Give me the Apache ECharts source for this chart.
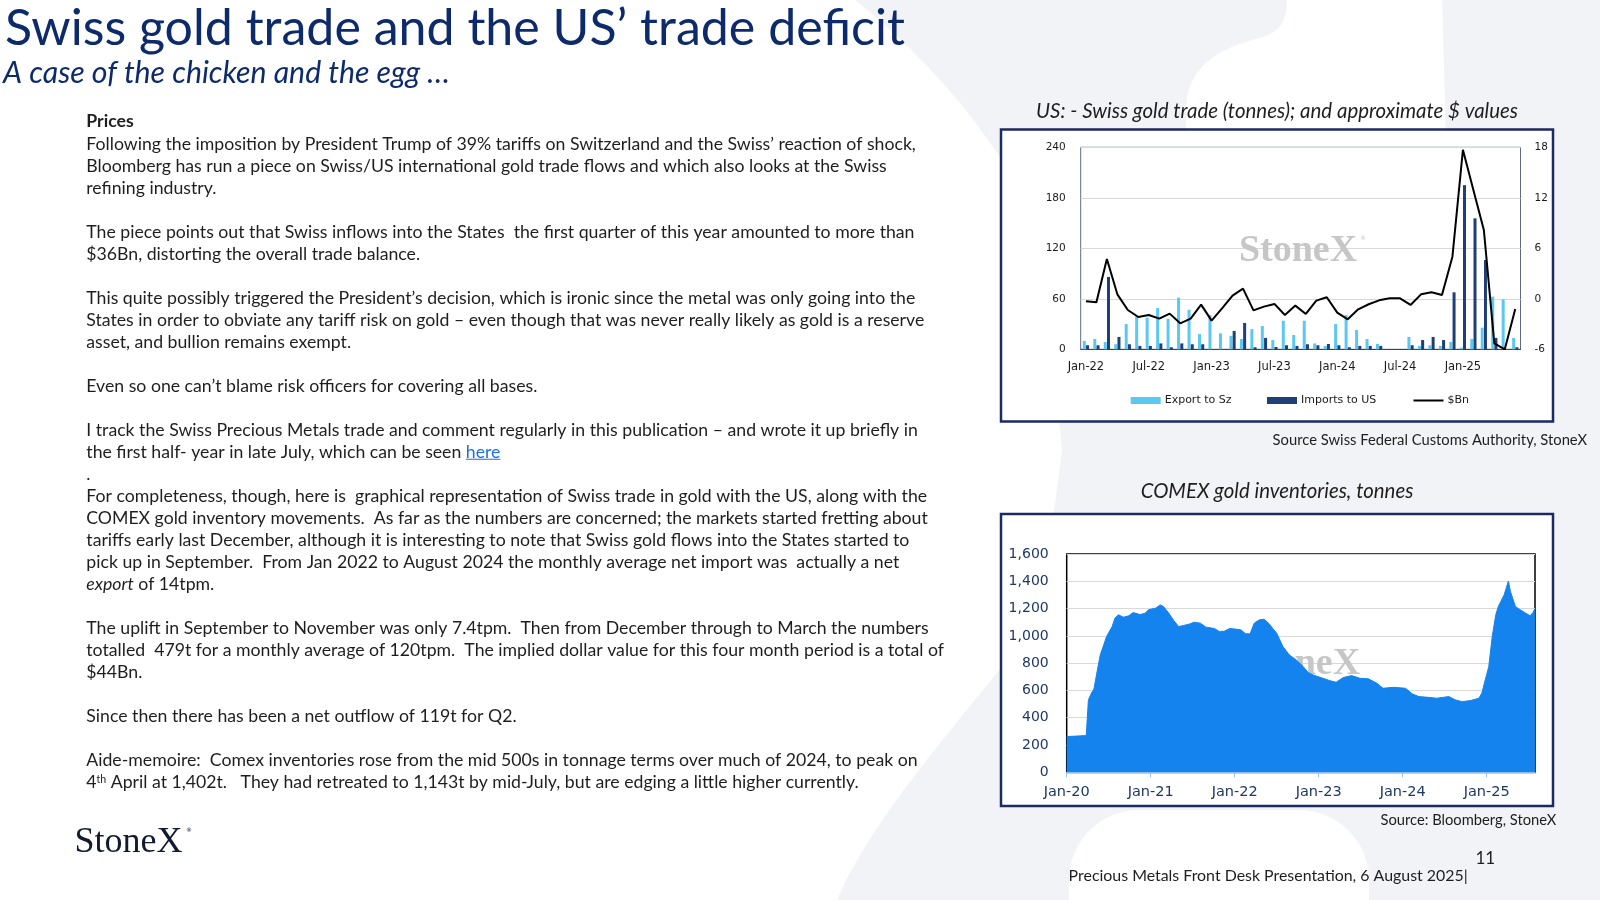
<!DOCTYPE html>
<html><head><meta charset="utf-8">
<script src="https://cdn.jsdelivr.net/npm/echarts@6/dist/echarts.min.js"></script>
<style>html,body{margin:0;padding:0;background:#fff;}#c{width:1600px;height:900px;}</style>
</head><body><div id="c"></div>
<script>
// ---------- DATA ----------
const tradeMonths = ['Jan-22','Feb-22','Mar-22','Apr-22','May-22','Jun-22','Jul-22','Aug-22','Sep-22','Oct-22','Nov-22','Dec-22',
  'Jan-23','Feb-23','Mar-23','Apr-23','May-23','Jun-23','Jul-23','Aug-23','Sep-23','Oct-23','Nov-23','Dec-23',
  'Jan-24','Feb-24','Mar-24','Apr-24','May-24','Jun-24','Jul-24','Aug-24','Sep-24','Oct-24','Nov-24','Dec-24',
  'Jan-25','Feb-25','Mar-25','Apr-25','May-25','Jun-25'];
const exportToSz = [10,12.3,8.7,6,30,39,37.6,49,36.4,61.4,47,18,
  40.8,19,16,12.3,24,27.7,11,34,17,34,7,4,
  30,40.8,23,12.3,6.3,0,0,14.7,4,4.8,4,8.7,
  2,12.3,25.7,62.6,59.4,13.5];
const importsToUS = [4.8,4.8,86,14.7,6,4,4,7,2.4,7,6,6,
  0,0,21.8,31.3,2.4,13.5,2.8,4.8,4,6,4.8,6.3,
  4.8,2.4,4,4,4,0,0,4.8,11,14.7,11,67.7,
  195,155.6,106,13.5,0,2.4];
const dollarBn = [-0.3,-0.42,4.73,0.53,-1.33,-2.16,-1.92,-2.36,-1.76,-2.91,-2.36,-0.69,
  -2.59,-1.13,0.38,1.21,-1.37,-0.93,-0.61,-1.92,-0.81,-1.8,-0.22,0.18,
  -1.64,-2.44,-1.25,-0.65,-0.18,0.06,0.06,-0.73,0.53,0.77,0.46,5.0,
  17.7,12.93,8.18,-5.29,-6.0,-1.21];

const comexDates = ['2020-01-01','2020-03-25','2020-04-04','2020-04-19','2020-04-28','2020-05-10','2020-05-25','2020-06-10','2020-06-22',
  '2020-07-16','2020-07-28','2020-08-13','2020-09-04','2020-09-28','2020-10-16','2020-11-16','2020-12-07','2020-12-22',
  '2021-01-22','2021-02-12','2021-02-26','2021-03-19','2021-04-10','2021-05-01','2021-05-22','2021-06-16','2021-07-07',
  '2021-08-04','2021-08-28','2021-10-04','2021-10-25','2021-11-16','2021-12-10','2022-01-07','2022-01-28','2022-02-18',
  '2022-03-07','2022-03-25','2022-04-16','2022-05-07','2022-05-28','2022-06-19','2022-07-01','2022-07-28','2022-08-25',
  '2022-09-25','2022-10-25','2022-11-16','2022-12-07','2023-01-19','2023-02-18','2023-03-16','2023-04-16','2023-05-22',
  '2023-06-28','2023-08-04','2023-09-10','2023-10-07','2023-11-22','2024-01-13','2024-02-12','2024-03-10','2024-04-16',
  '2024-05-28','2024-07-19','2024-08-16','2024-09-16','2024-10-22','2024-11-28','2024-12-10','2024-12-25','2025-01-10',
  '2025-01-25','2025-02-10','2025-02-21','2025-03-16','2025-04-04','2025-04-13','2025-05-04','2025-05-25','2025-06-19',
  '2025-07-07','2025-07-19','2025-07-28'];
const comexTonnes = [262,269,530,587,609,726,860,934,995,
  1068,1130,1154,1137,1147,1171,1156,1166,1191,
  1203,1227,1215,1166,1112,1068,1076,1086,1100,
  1093,1064,1054,1032,1034,1054,1049,1044,1015,
  1015,1093,1117,1122,1090,1044,1020,922,861,
  824,775,731,714,689,672,660,694,709,
  689,685,653,616,623,616,575,555,550,
  543,555,531,518,526,543,579,677,775,
  995,1154,1215,1301,1402,1325,1215,1191,1166,
  1147,1170,1200];
const comexYearLabels = ['Jan-20','Jan-21','Jan-22','Jan-23','Jan-24','Jan-25'];

const titleText = 'Swiss gold trade and the US’ trade deficit';
const subtitleText = 'A case of the chicken and the egg …';
const bodyLines = [
  '{b|Prices}',
  'Following the imposition by President Trump of 39% tariffs on Switzerland and the Swiss’ reaction of shock,',
  'Bloomberg has run a piece on Swiss/US international gold trade flows and which also looks at the Swiss',
  'refining industry.',
  '',
  'The piece points out that Swiss inflows into the States  the first quarter of this year amounted to more than',
  '$36Bn, distorting the overall trade balance.',
  '',
  'This quite possibly triggered the President’s decision, which is ironic since the metal was only going into the',
  'States in order to obviate any tariff risk on gold – even though that was never really likely as gold is a reserve',
  'asset, and bullion remains exempt.',
  '',
  'Even so one can’t blame risk officers for covering all bases.',
  '',
  'I track the Swiss Precious Metals trade and comment regularly in this publication – and wrote it up briefly in',
  'the first half- year in late July, which can be seen {a|here}',
  '.',
  'For completeness, though, here is  graphical representation of Swiss trade in gold with the US, along with the',
  'COMEX gold inventory movements.  As far as the numbers are concerned; the markets started fretting about',
  'tariffs early last December, although it is interesting to note that Swiss gold flows into the States started to',
  'pick up in September.  From Jan 2022 to August 2024 the monthly average net import was  actually a net',
  '{i|export} of 14tpm.',
  '',
  'The uplift in September to November was only 7.4tpm.  Then from December through to March the numbers',
  'totalled  479t for a monthly average of 120tpm.  The implied dollar value for this four month period is a total of',
  '$44Bn.',
  '',
  'Since then there has been a net outflow of 119t for Q2.',
  '',
  'Aide-memoire:  Comex inventories rose from the mid 500s in tonnage terms over much of 2024, to peak on',
  '4{s|th} April at 1,402t.   They had retreated to 1,143t by mid-July, but are edging a little higher currently.'
];

// ---------- helpers ----------
const mctx = document.createElement('canvas').getContext('2d');
function measure(text, size, family, weight, style) {
  mctx.font = (style || 'normal') + ' ' + (weight || 'normal') + ' ' + size + 'px ' + family;
  return mctx.measureText(text).width;
}
function fitSize(text, family, target, weight, style) {
  return 20 * target / measure(text, 20, family, weight, style);
}
function toMonthIndex(s) {
  const p = s.split('-').map(Number);
  return (p[0] - 2020) * 12 + (p[1] - 1) + (p[2] - 1) / 30.4;
}
function bez(p0, p1, p2, p3, n) {
  const out = [];
  for (let i = 1; i <= n; i++) {
    const t = i / n, u = 1 - t;
    out.push([u*u*u*p0[0] + 3*u*u*t*p1[0] + 3*u*t*t*p2[0] + t*t*t*p3[0],
              u*u*u*p0[1] + 3*u*u*t*p1[1] + 3*u*t*t*p2[1] + t*t*t*p3[1]]);
  }
  return out;
}

const SANS = 'Lato';
const NAVY = '#0d2b6b';
const TXT = '#1e1e1e';

const titleSize = fitSize(titleText, SANS, 900, 'normal');
const subSize = fitSize(subtitleText, SANS, 447, 'normal', 'italic');
const bodySize = fitSize(bodyLines[1], SANS, 830);
const mid = 0.255; // baseline -> drawn middle offset (em)

const els = [];
// background X shape (pale)
const leftNotch = [[0,0],[855,0]].concat(
  bez([855,0],[930,60],[1000,140],[1040,230],12),
  [[1062,450],[1040,620]],
  bez([1040,620],[960,720],[870,820],[837,900],12),
  [[0,900]]);
const topNotch = [[1287,-1],[1442,-1],[1446,140],[1186,140],[1186,110]].concat(
  bez([1186,110],[1186,62],[1226,46],[1266,36],10),
  bez([1266,36],[1283,30],[1287,16],[1287,-1],6));
els.push({type:'rect', z:-30, shape:{x:800,y:0,width:800,height:900}, style:{fill:'#f2f3f6'}});
els.push({type:'polygon', z:-29, shape:{points:leftNotch}, style:{fill:'#ffffff'}});
els.push({type:'polygon', z:-29, shape:{points:topNotch}, style:{fill:'#ffffff'}});
els.push({type:'rect', z:-29, shape:{x:1069,y:810,width:300,height:200,r:[70,70,0,0]}, style:{fill:'#ffffff'}});

// title & subtitle
els.push({type:'text', z:5, style:{text:titleText, x:5, y:41.7 - mid*titleSize, font:'normal normal ' + titleSize.toFixed(2) + 'px ' + SANS, fill:NAVY, align:'left', verticalAlign:'middle'}});
els.push({type:'text', z:5, style:{text:subtitleText, x:3, y:81 - mid*subSize, font:'italic normal ' + subSize.toFixed(2) + 'px ' + SANS, fill:NAVY, align:'left', verticalAlign:'middle'}});

// body text
bodyLines.forEach(function (line, n) {
  if (!line) return;
  const base = 126.3 + 22.03 * n;
  els.push({type:'text', z:5, style:{
    text: line, x: 86.3, y: base - mid * bodySize,
    fontSize: bodySize, fontFamily: SANS, fill: TXT, align:'left', verticalAlign:'middle',
    rich: {
      b: {fontSize: bodySize, fontFamily: SANS, fontWeight:'bold', fill: TXT},
      i: {fontSize: bodySize, fontFamily: SANS, fontStyle:'italic', fill: TXT},
      a: {fontSize: bodySize, fontFamily: SANS, fill: '#1f6fe5'},
      s: {fontSize: bodySize * 0.6, fontFamily: SANS, fill: TXT, verticalAlign:'top'}
    }
  }});
  if (line.indexOf('{a|') >= 0) {
    const pre = line.split('{a|')[0];
    const x0 = 86.3 + measure(pre, bodySize, SANS);
    const w = measure('here', bodySize, SANS);
    els.push({type:'line', z:5, shape:{x1:x0, y1:base + 2.5, x2:x0 + w, y2:base + 2.5}, style:{stroke:'#1f6fe5', lineWidth:1}});
  }
});

// logo
els.push({type:'text', z:5, style:{text:'StoneX', x:74.5, y:850 - 0.21*36, font:'normal 36px "Liberation Serif"', fill:'#141a2e', align:'left', verticalAlign:'middle'}});
els.push({type:'text', z:5, style:{text:'®', x:186, y:830, font:'normal 6px "DejaVu Sans"', fill:'#141a2e', align:'left', verticalAlign:'middle'}});

// chart boxes
els.push({type:'rect', z:-10, shape:{x:1001,y:129.5,width:552,height:292}, style:{fill:'#ffffff', stroke:'#1c2a64', lineWidth:2.5}});
els.push({type:'rect', z:-10, shape:{x:1001,y:514,width:552,height:292}, style:{fill:'#ffffff', stroke:'#1c2a64', lineWidth:2.5}});

// chart titles, sources, footer
const t1 = 'US: - Swiss gold trade (tonnes); and approximate $ values';
const t2 = 'COMEX gold inventories, tonnes';
const s1 = 'Source Swiss Federal Customs Authority, StoneX';
const s2 = 'Source: Bloomberg, StoneX';
const ft = 'Precious Metals Front Desk Presentation, 6 August 2025|';
const t1s = fitSize(t1, SANS, 482, 'normal', 'italic');
const t2s = fitSize(t2, SANS, 272.7, 'normal', 'italic');
const s1s = fitSize(s1, SANS, 314.4);
const s2s = fitSize(s2, SANS, 175.8);
const fts = fitSize(ft, SANS, 399.5);
els.push({type:'text', z:5, style:{text:t1, x:1277, y:111, font:'italic ' + t1s.toFixed(2) + 'px ' + SANS, fill:TXT, align:'center', verticalAlign:'middle'}});
els.push({type:'text', z:5, style:{text:t2, x:1277, y:491, font:'italic ' + t2s.toFixed(2) + 'px ' + SANS, fill:TXT, align:'center', verticalAlign:'middle'}});
els.push({type:'text', z:5, style:{text:s1, x:1587, y:440.6, font:s1s.toFixed(2) + 'px ' + SANS, fill:TXT, align:'right', verticalAlign:'middle'}});
els.push({type:'text', z:5, style:{text:s2, x:1556.3, y:820.6, font:s2s.toFixed(2) + 'px ' + SANS, fill:TXT, align:'right', verticalAlign:'middle'}});
els.push({type:'text', z:5, style:{text:ft, x:1467.7, y:875.7, font:fts.toFixed(2) + 'px ' + SANS, fill:TXT, align:'right', verticalAlign:'middle'}});
els.push({type:'text', z:5, style:{text:'11', x:1475.5, y:858.5, font:'17px ' + SANS, fill:TXT, align:'left', verticalAlign:'middle'}});

// watermarks in charts
els.push({type:'text', z:1, style:{text:'StoneX', x:1298, y:251, font:'bold 38px "Liberation Serif"', fill:'#c6c6c6', align:'center', verticalAlign:'middle'}});
els.push({type:'text', z:1, style:{text:'®', x:1360, y:238, font:'6px "DejaVu Sans"', fill:'#c6c6c6', align:'left', verticalAlign:'middle'}});
els.push({type:'text', z:1, style:{text:'StoneX', x:1301, y:664, font:'bold 38px "Liberation Serif"', fill:'#c6c6c6', align:'center', verticalAlign:'middle'}});

const axisFontTop = {fontFamily:'DejaVu Sans', fontSize:11, color:'#1a1a1a'};
const comexData = comexDates.map(function (d, i) { return [toMonthIndex(d), comexTonnes[i]]; });
const legendText = {fontFamily:'DejaVu Sans', fontSize:11, color:'#1a1a1a', padding:[0,0,0,-1]};

const option = {
  animation: false,
  backgroundColor: '#ffffff',
  graphic: {elements: els},
  grid: [
    {left:1080.7, top:147.3, width:439.8, height:202, show:true, borderColor:'#5d6d7e', borderWidth:1, backgroundColor:'transparent'},
    {left:1066.7, top:554, width:468.3, height:218.3, show:true, borderColor:'#000000', borderWidth:1.5, backgroundColor:'transparent'}
  ],
  xAxis: [
    {gridIndex:0, type:'category', data:tradeMonths, boundaryGap:true,
      axisLine:{lineStyle:{color:'#404040', width:1}},
      axisTick:{interval:5, length:5, alignWithLabel:false, lineStyle:{color:'#404040'}},
      axisLabel:Object.assign({interval:5, margin:12}, axisFontTop, {fontSize:11.5})},
    {gridIndex:1, type:'value', min:0, max:66.9, interval:12,
      axisLine:{show:true, onZero:false, lineStyle:{color:'#9dc3e6', width:1.5}},
      axisTick:{show:true, length:5, lineStyle:{color:'#9dc3e6'}},
      splitLine:{show:false},
      axisLabel:{margin:12, fontFamily:'DejaVu Sans', fontSize:14.5, color:'#1F3864', showMaxLabel:false,
        formatter:function (v) { const k = Math.round(v); return (Math.abs(v - k) < 1e-6 && k % 12 === 0) ? (comexYearLabels[k / 12] || '') : ''; }}}
  ],
  yAxis: [
    {gridIndex:0, type:'value', min:0, max:240, interval:60,
      axisLine:{show:false}, axisTick:{show:false},
      splitLine:{lineStyle:{color:'#d9d9d9', width:1}},
      axisLabel:Object.assign({margin:15, padding:[3,0,0,0]}, axisFontTop, {fontSize:10.5})},
    {gridIndex:0, type:'value', position:'right', min:-6, max:18, interval:6,
      axisLine:{show:false}, axisTick:{show:false}, splitLine:{show:false},
      axisLabel:Object.assign({margin:14, padding:[3,0,0,0]}, axisFontTop, {fontSize:10.5})},
    {gridIndex:1, type:'value', min:0, max:1600, interval:200,
      axisLine:{show:false}, axisTick:{show:false},
      splitLine:{lineStyle:{color:'#d9d9d9', width:1}},
      axisLabel:{margin:18, fontFamily:'DejaVu Sans', fontSize:14, color:'#1F3864',
        formatter:function (v) { return v.toLocaleString('en-US'); }}}
  ],
  legend: [
    {left:1130.7, top:395, padding:0, itemWidth:30, itemHeight:7, data:[{name:'Export to Sz', icon:'rect'}], textStyle:legendText},
    {left:1267, top:395, padding:0, itemWidth:30, itemHeight:7, data:[{name:'Imports to US', icon:'rect'}], textStyle:legendText},
    {left:1413.5, top:395, padding:0, itemWidth:30, itemHeight:2, data:[{name:'$Bn', icon:'rect', itemStyle:{color:'#000000'}}], textStyle:legendText}
  ],
  series: [
    {name:'Export to Sz', type:'bar', xAxisIndex:0, yAxisIndex:0, data:exportToSz, barWidth:3, barGap:'8%', itemStyle:{color:'#5bc8f2'}},
    {name:'Imports to US', type:'bar', xAxisIndex:0, yAxisIndex:0, data:importsToUS, barWidth:3, barGap:'8%', itemStyle:{color:'#1f3f77'}},
    {name:'$Bn', type:'line', xAxisIndex:0, yAxisIndex:1, data:dollarBn, symbol:'none', lineStyle:{color:'#000000', width:2}, itemStyle:{color:'#000000'}, z:4},
    {name:'COMEX', type:'line', xAxisIndex:1, yAxisIndex:2, data:comexData, symbol:'none', lineStyle:{color:'#1483ee', width:1}, areaStyle:{color:'#1483ee', opacity:1}, itemStyle:{color:'#1483ee'}, z:3}
  ]
};

const chart = echarts.init(document.getElementById('c'), null, {renderer:'canvas', width:1600, height:900});
chart.setOption(option);
</script>
</body></html>
